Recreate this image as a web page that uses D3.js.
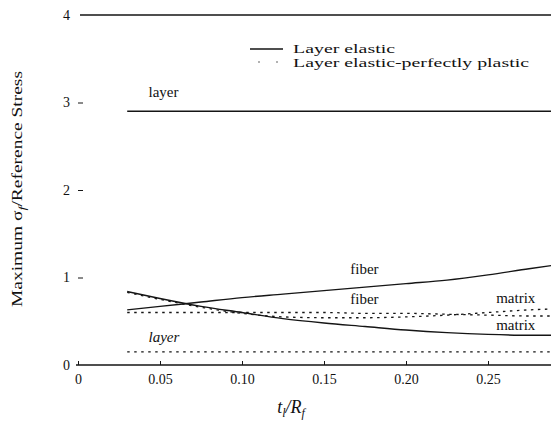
<!DOCTYPE html>
<html>
<head>
<meta charset="utf-8">
<script src="https://cdn.jsdelivr.net/npm/d3@7"></script>
<style>
  html, body { margin: 0; padding: 0; background: #fff; }
  svg { display: block; }
  text { font-family: "Liberation Serif", "DejaVu Serif", serif; fill: #111; }
</style>
</head>
<body>
<svg id="chart" width="551" height="433"></svg>
<script>
// Layer thickness ratio t_l/R_f at which the stresses were sampled
const tRatio = [0.03, 0.05, 0.075, 0.10, 0.125, 0.15, 0.175, 0.20, 0.225, 0.25, 0.275, 0.29];

// Maximum stress / reference stress, elastic layer (solid)
const fiberElastic  = [0.63, 0.67, 0.72, 0.77, 0.81, 0.85, 0.89, 0.93, 0.97, 1.03, 1.10, 1.14];
const matrixElastic = [0.84, 0.76, 0.67, 0.60, 0.53, 0.48, 0.44, 0.40, 0.37, 0.35, 0.34, 0.34];
const layerElastic  = [2.90, 2.90, 2.90, 2.90, 2.90, 2.90, 2.90, 2.90, 2.90, 2.90, 2.90, 2.90];

// Elastic-perfectly plastic layer (dotted)
const fiberPlastic  = [0.60, 0.60, 0.60, 0.60, 0.60, 0.60, 0.59, 0.59, 0.58, 0.57, 0.56, 0.56];
const matrixPlastic = [0.83, 0.75, 0.66, 0.59, 0.55, 0.54, 0.54, 0.55, 0.57, 0.60, 0.63, 0.64];
const layerPlastic  = [0.15, 0.15, 0.15, 0.15, 0.15, 0.15, 0.15, 0.15, 0.15, 0.15, 0.15, 0.15];

const xTicks = [0, 0.05, 0.10, 0.15, 0.20, 0.25];
const xTickLabels = ["0", "0.05", "0.10", "0.15", "0.20", "0.25"];
const yTicks = [0, 1, 2, 3, 4];
const yTickLabels = ["0", "1", "2", "3", "4"];

const legendLabels = ["Layer  elastic", "Layer  elastic-perfectly  plastic"];

const serif = "'Liberation Serif', 'DejaVu Serif', serif";
const svg = d3.select("#chart");
const x = d3.scaleLinear().domain([0, 0.3]).range([78, 570]);
const y = d3.scaleLinear().domain([0, 4]).range([365, 15]);

const ink = "#151515";

// frame: top border and bottom axis line
svg.append("line").attr("x1", 80).attr("x2", 551)
  .attr("y1", y(4)).attr("y2", y(4)).attr("stroke", ink).attr("stroke-width", 1.4);

// x axis with small inward ticks
const xAxis = d3.axisBottom(x).tickValues(xTicks)
  .tickFormat((d, i) => xTickLabels[i]).tickSizeInner(-4).tickSizeOuter(0).tickPadding(9);
const gx = svg.append("g").attr("transform", `translate(0,${y(0)})`).call(xAxis)
  .attr("font-family", serif).attr("font-size", 14);
gx.select(".domain").attr("stroke", ink).attr("stroke-width", 1.4).attr("d", `M${x(0) - 2},0H551`);
gx.selectAll(".tick line").attr("stroke", ink);
gx.selectAll(".tick text").attr("fill", ink);

// left y axis: labels and short ticks, no spine
const yAxis = d3.axisLeft(y).tickValues(yTicks)
  .tickFormat((d, i) => yTickLabels[i]).tickSizeInner(5).tickSizeOuter(0).tickPadding(8);
const gy = svg.append("g").attr("transform", `translate(${x(0) + 5},0)`).call(yAxis)
  .attr("font-family", serif).attr("font-size", 14);
gy.select(".domain").remove();
gy.selectAll(".tick line").attr("stroke", ink);
gy.selectAll(".tick").filter(d => d === 0 || d === 4).select("line").remove();
gy.selectAll(".tick text").attr("fill", ink);

// right axis ticks (spine lies just past the edge)
const yRight = d3.axisLeft(y).tickValues([1, 2, 3]).tickSizeInner(-6).tickSizeOuter(0).tickFormat("");
const gr = svg.append("g").attr("transform", "translate(554,0)").call(yRight);
gr.select(".domain").remove();
gr.selectAll(".tick line").attr("stroke", ink);

// curves
const line = vals => d3.line().x((d, i) => x(tRatio[i])).y(d => y(d)).curve(d3.curveMonotoneX)(vals);
const series = [
  { v: layerElastic,  dash: null },
  { v: fiberElastic,  dash: null },
  { v: matrixElastic, dash: null },
  { v: fiberPlastic,  dash: "2.5,4.5" },
  { v: matrixPlastic, dash: "2.5,4.5" },
  { v: layerPlastic,  dash: "2.5,4.5" }
];
svg.append("g").selectAll("path").data(series).join("path")
  .attr("d", d => line(d.v))
  .attr("fill", "none")
  .attr("stroke", ink)
  .attr("stroke-width", d => d.dash ? 1.3 : 1.4)
  .attr("stroke-dasharray", d => d.dash);

// curve labels
const labels = [
  { t: "layer",  xv: 0.043, yv: 3.06, italic: false },
  { t: "fiber",  xv: 0.166, yv: 1.04, italic: false },
  { t: "fiber",  xv: 0.166, yv: 0.70, italic: false },
  { t: "matrix", xv: 0.255, yv: 0.71, italic: false },
  { t: "matrix", xv: 0.255, yv: 0.40, italic: false },
  { t: "layer",  xv: 0.043, yv: 0.26, italic: true }
];
svg.append("g").selectAll("text").data(labels).join("text")
  .attr("x", d => x(d.xv)).attr("y", d => y(d.yv))
  .attr("font-size", 15)
  .attr("font-style", d => d.italic ? "italic" : "normal")
  .text(d => d.t);

// legend
const lg = svg.append("g");
lg.append("line").attr("x1", 250).attr("x2", 283).attr("y1", 49).attr("y2", 49)
  .attr("stroke", ink).attr("stroke-width", 1.3);
lg.append("line").attr("x1", 258).attr("x2", 283).attr("y1", 62).attr("y2", 62)
  .attr("stroke", "#666").attr("stroke-width", 1.1).attr("stroke-dasharray", "2,16");
lg.append("text").attr("x", 293).attr("y", 53).attr("font-size", 13)
  .attr("textLength", 102).attr("lengthAdjust", "spacingAndGlyphs").text(legendLabels[0]);
lg.append("text").attr("x", 293).attr("y", 67).attr("font-size", 13)
  .attr("textLength", 236).attr("lengthAdjust", "spacingAndGlyphs").text(legendLabels[1]);

// y-axis title
const yt = svg.append("text")
  .attr("transform", "translate(22,189) rotate(-90)")
  .attr("text-anchor", "middle").attr("font-size", 15)
  .attr("textLength", 236).attr("lengthAdjust", "spacingAndGlyphs");
yt.append("tspan").text("Maximum σ");
yt.append("tspan").attr("font-size", 11).attr("dy", 4).attr("font-style", "italic").text("f");
yt.append("tspan").attr("dy", -4).text("/Reference Stress");

// x-axis title
const xt = svg.append("text").attr("x", 291).attr("y", 413)
  .attr("text-anchor", "middle").attr("font-size", 18).attr("font-style", "italic");
xt.append("tspan").text("t");
xt.append("tspan").attr("font-size", 12).attr("dy", 4).text("l");
xt.append("tspan").attr("dy", -4).text("/R");
xt.append("tspan").attr("font-size", 12).attr("dy", 4).text("f");
</script>
</body>
</html>
